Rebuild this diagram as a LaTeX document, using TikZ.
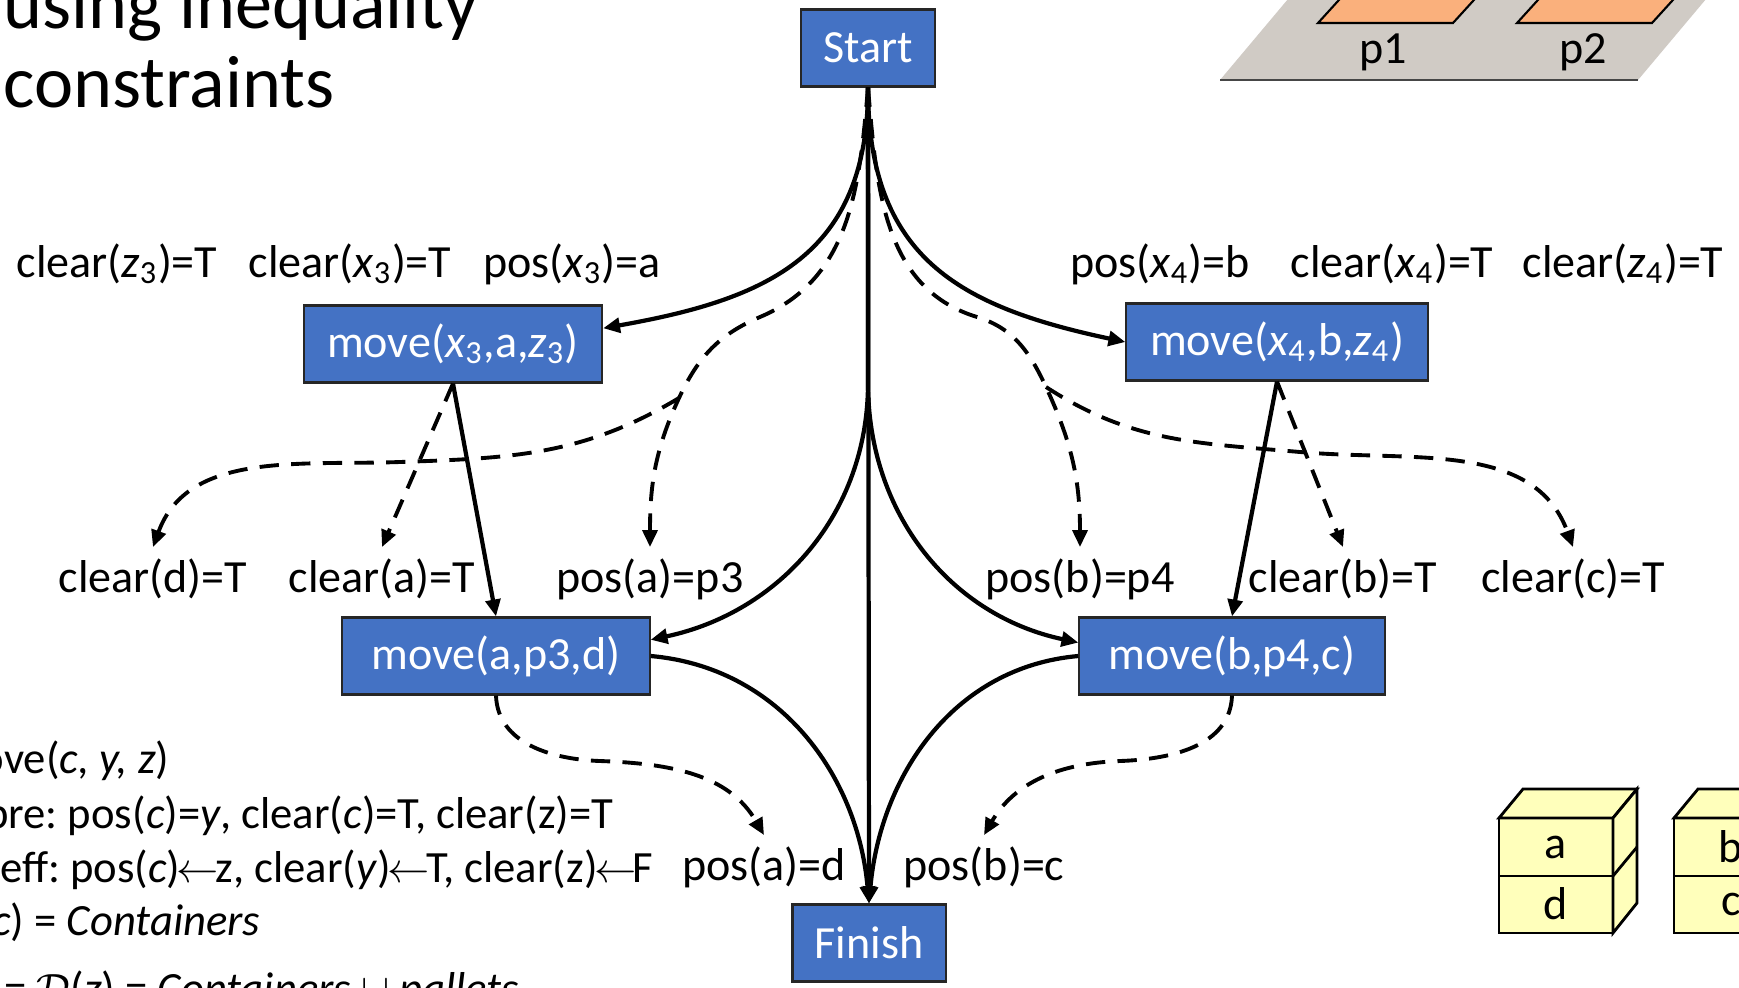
\documentclass[tikz,border=0pt]{standalone}
\usepackage{fontspec}
\setmainfont{Carlito}
\usetikzlibrary{arrows.meta}

\definecolor{actblue}{RGB}{68,114,196}
\definecolor{palletgray}{RGB}{208,203,197}
\definecolor{slotorange}{RGB}{250,176,124}
\definecolor{boxyellow}{RGB}{255,255,187}

\newcommand{\titlefont}{\fontsize{21.1}{25}\selectfont}
\newcommand{\condfont}{\fontsize{13.1}{16}\selectfont}
\newcommand{\notefont}{\fontsize{12.7}{15}\selectfont\frenchspacing}
\newcommand{\getsval}{$\mkern-1.5mu\leftarrow\mkern-1.5mu$}

\tikzstyle{act}=[rectangle, draw=black!85, line width=0.6pt, fill=actblue, text=white, minimum height=0.77cm, inner sep=0pt, font=\condfont]
\tikzstyle{cond}=[anchor=base, inner sep=3pt, font=\condfont]
\tikzstyle{note}=[anchor=base east, inner sep=0pt, font=\notefont]
\tikzstyle{order}=[line width=1.2pt, -{Triangle[length=4.8pt,width=4.2pt]}]
\tikzstyle{link}=[line width=1.1pt, dash pattern=on 5.5pt off 3.5pt, -{Triangle[length=4.8pt,width=4.2pt]}]

\begin{document}
\begin{tikzpicture}[x=0.01cm, y=0.01cm]

\useasboundingbox (0,0) rectangle (1739,-987);
\clip (0,0) rectangle (1739,-987);
\fill[white] (0,0) rectangle (1739,-987);

% heading
\node[anchor=base west, inner sep=0pt, font=\titlefont] (head1) at (3,-28) {using inequality};
\node[anchor=base west, inner sep=0pt, font=\titlefont] (head2) at (3,-107) {constraints};

% pallet with the two slots p1, p2
\fill[palletgray] (1220,-80) -- (1638,-80) -- (1722,20) -- (1304,20) -- cycle;
\draw[gray!55!black, line width=0.8pt] (1220,-80) -- (1638,-80);
\filldraw[fill=slotorange, draw=black, line width=0.6pt] (1318,-23) -- (1453,-23) -- (1483,10) -- (1348,10) -- cycle;
\filldraw[fill=slotorange, draw=black, line width=0.6pt] (1517,-23) -- (1652,-23) -- (1682,10) -- (1547,10) -- cycle;
\node[anchor=base, font=\condfont] (p1) at (1383,-63) {p1};
\node[anchor=base, font=\condfont] (p2) at (1583,-63) {p2};

% container stacks a/d and b/c
\filldraw[fill=boxyellow, line width=0.8pt] (1499,-818) rectangle (1613,-876);
\filldraw[fill=boxyellow, line width=0.8pt] (1499,-876) rectangle (1613,-933);
\filldraw[fill=boxyellow, line width=0.8pt] (1499,-818) -- (1523,-789) -- (1637,-789) -- (1613,-818) -- cycle;
\filldraw[fill=boxyellow, line width=0.8pt] (1613,-818) -- (1637,-789) -- (1637,-903) -- (1613,-933) -- cycle;
\draw[line width=0.8pt] (1613,-876) -- (1637,-847);
\node[font=\condfont] (ca) at (1556,-847) {a};
\node[font=\condfont] (cd) at (1556,-904) {d};

\filldraw[fill=boxyellow, line width=0.8pt] (1674,-818) rectangle (1788,-876);
\filldraw[fill=boxyellow, line width=0.8pt] (1674,-876) rectangle (1788,-933);
\filldraw[fill=boxyellow, line width=0.8pt] (1674,-818) -- (1698,-789) -- (1812,-789) -- (1788,-818) -- cycle;
\node[font=\condfont] (cb) at (1731,-847) {b};
\node[font=\condfont] (cc) at (1731,-904) {c};

% actions
\node[act, minimum width=1.34cm] (start) at (868,-48) {Start};
\node[act, minimum width=2.98cm] (mx3) at (453,-344) {move(\textit{x}\textsubscript{3},a,\textit{z}\textsubscript{3})};
\node[act, minimum width=3.01cm] (mx4) at (1277,-342) {move(\textit{x}\textsubscript{4},b,\textit{z}\textsubscript{4})};
\node[act, minimum width=3.07cm] (mad) at (496,-656) {move(a,p3,d)};
\node[act, minimum width=3.05cm] (mbc) at (1232,-656) {move(b,p4,c)};
\node[act, minimum width=1.53cm] (finish) at (869,-943) {Finish};

% preconditions
\node[cond] (clz3) at (117,-277) {clear(\textit{z}\textsubscript{3})=T};
\node[cond] (clx3) at (350,-277) {clear(\textit{x}\textsubscript{3})=T};
\node[cond] (pox3) at (572,-277) {pos(\textit{x}\textsubscript{3})=a};
\node[cond] (pox4) at (1160,-277) {pos(\textit{x}\textsubscript{4})=b};
\node[cond] (clx4) at (1392,-277) {clear(\textit{x}\textsubscript{4})=T};
\node[cond] (clz4) at (1623,-277) {clear(\textit{z}\textsubscript{4})=T};

\node[cond] (cld) at (153,-592) {clear(d)=T};
\node[cond] (cla) at (382,-592) {clear(a)=T};
\node[cond] (poa3) at (650,-592) {pos(a)=p3};
\node[cond] (pob4) at (1080,-592) {pos(b)=p4};
\node[cond] (clb) at (1343,-592) {clear(b)=T};
\node[cond] (clc) at (1573,-592) {clear(c)=T};

\node[cond] (poad) at (764,-880) {pos(a)=d};
\node[cond] (pobc) at (984,-880) {pos(b)=c};

% the action schema
\node[note] (n1) at (170,-773) {move(\textit{c, y, z})};
\node[note] (n2) at (614,-828) {pre: pos(\textit{c})=\textit{y}, clear(\textit{c})=T, clear(z)=T};
\node[note] (n3) at (654,-882) {eff: pos(\textit{c})\getsval z, clear(\textit{y})\getsval T, clear(z)\getsval F};
\node[note] (n4) at (261,-935) {$\mathcal{D}$(\textit{c}) = \textit{Containers}};
\node[note] (n5) at (520,-1003) {$\mathcal{D}$(\textit{y}) = $\mathcal{D}$(\textit{z}) = \textit{Containers} $\cup$ \textit{pallets}};

% bend and split points
\coordinate (fork) at (868,-383);
\coordinate (lbend) at (760,-317);
\coordinate (lsplit) at (679,-398);
\coordinate (rbend) at (977,-317);
\coordinate (rsplit) at (1046,-387);

% ordering
\draw[order] (start.south) -- (finish.north);
\draw[order] (start.south) to[out=-90, in=10, looseness=1.2] (mx3.6);
\draw[order] (start.south) to[out=-90, in=168, looseness=1.2] (mx4.west);
\draw[order] (start.south) -- (fork) to[out=-90, in=12] (mad.6);
\draw[order] (start.south) -- (fork) to[out=-90, in=168] (mbc.175);
\draw[order] (mx3.south) -- (mad.north);
\draw[order] (mx4.south) -- (mbc.north);
\draw[order] (mad.east) to[out=-5, in=95] (finish.north);
\draw[order] (mbc.west) to[out=185, in=85] (finish.north);

% causal links
\draw[link] (start.south) to[out=-95, in=23] (lbend) to[out=203, in=65] (lsplit) to[out=245, in=90] (poa3.north);
\draw[link] (lsplit) to[out=211, in=2] (400,-462) to[out=182, in=70] (cld.north);
\draw[link] (start.south) to[out=-85, in=163] (rbend) to[out=-17, in=115] (rsplit) to[out=-65, in=90] (pob4.north);
\draw[link] (rsplit) to[out=-33, in=175] (1300,-452) to[out=-5, in=110] (clc.north);
\draw[link] (mx3.south) -- (cla.north);
\draw[link] (mx4.south) -- (clb.north);
\draw[link] (mad.south) to[out=-88, in=178] (600,-761) to[out=-2, in=120] (poad.north);
\draw[link] (mbc.south) to[out=-92, in=2] (1120,-761) to[out=182, in=60] (pobc.north);

\end{tikzpicture}
\end{document}
